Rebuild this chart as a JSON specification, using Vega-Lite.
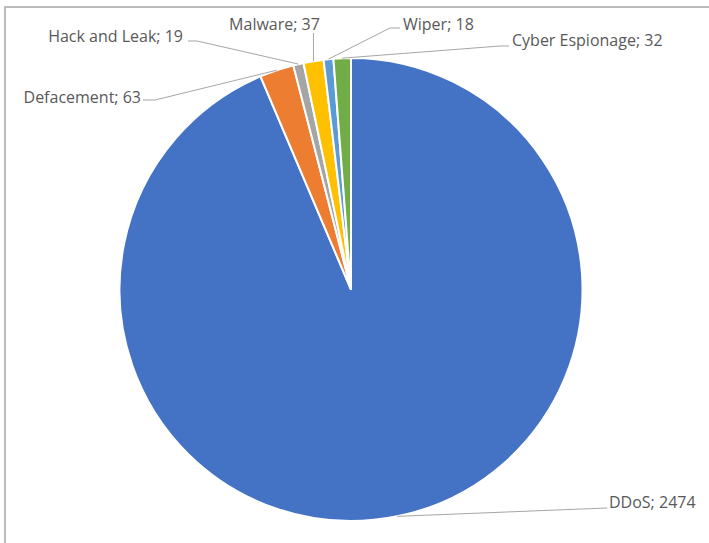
{
  "$schema": "https://vega.github.io/schema/vega-lite/v6.json",
  "width": 706,
  "height": 540,
  "autosize": {"type": "none"},
  "padding": {"left": 5, "top": 7, "right": 0, "bottom": 0},
  "background": "white",
  "config": {
    "view": {"stroke": "#a6a6a6", "strokeWidth": 1.5},
    "text": {"font": "Open Sans", "fontSize": 16, "color": "#595959"}
  },
  "data": {
    "values": [
      {"category": "DDoS", "value": 2474},
      {"category": "Defacement", "value": 63},
      {"category": "Hack and Leak", "value": 19},
      {"category": "Malware", "value": 37},
      {"category": "Wiper", "value": 18},
      {"category": "Cyber Espionage", "value": 32}
    ]
  },
  "transform": [
    {"window": [{"op": "sum", "field": "value", "as": "cum"}, {"op": "row_number", "as": "idx"}], "frame": [null, 0]},
    {"joinaggregate": [{"op": "sum", "field": "value", "as": "total"}]},
    {"calculate": "2 * PI * (datum.cum - datum.value / 2) / datum.total", "as": "mid"},
    {"calculate": "231.5 * sin(datum.mid)", "as": "ex"},
    {"calculate": "231.5 * cos(datum.mid)", "as": "ey"},
    {"calculate": "datum.category + '; ' + datum.value", "as": "label"}
  ],
  "layer": [
    {
      "mark": {"type": "arc", "radius": 231.5, "stroke": "white", "strokeWidth": 2},
      "encoding": {
        "theta": {"field": "value", "type": "quantitative", "stack": true},
        "order": {"field": "idx", "type": "quantitative"},
        "color": {
          "field": "category",
          "type": "nominal",
          "scale": {
            "domain": ["DDoS", "Defacement", "Hack and Leak", "Malware", "Wiper", "Cyber Espionage"],
            "range": ["#4472C4", "#ED7D31", "#A5A5A5", "#FFC000", "#5B9BD5", "#70AD47"]
          },
          "legend": null
        },
        "x": {"datum": 0, "type": "quantitative", "scale": {"domain": [-346, 360], "nice": false, "zero": false}, "axis": null},
        "y": {"datum": 0, "type": "quantitative", "scale": {"domain": [-257.5, 282.5], "nice": false, "zero": false}, "axis": null}
      }
    },
    {
      "transform": [{"filter": "datum.category === 'DDoS'"}],
      "layer": [
        {"mark": {"type": "rule", "color": "#a6a6a6", "strokeWidth": 1},
         "encoding": {"x": {"field": "ex", "type": "quantitative"}, "y": {"field": "ey", "type": "quantitative"}, "x2": {"datum": 256}, "y2": {"datum": -218.5}}},
        {"mark": {"type": "text", "align": "left", "baseline": "alphabetic"},
         "encoding": {"x": {"datum": 258}, "y": {"datum": -218.5}, "text": {"field": "label"}}}
      ]
    },
    {
      "transform": [{"filter": "datum.category === 'Defacement'"}],
      "layer": [
        {"mark": {"type": "rule", "color": "#a6a6a6", "strokeWidth": 1},
         "encoding": {"x": {"field": "ex", "type": "quantitative"}, "y": {"field": "ey", "type": "quantitative"}, "x2": {"datum": -196}, "y2": {"datum": 189.5}}},
        {"mark": {"type": "rule", "color": "#a6a6a6", "strokeWidth": 1},
         "encoding": {"x": {"datum": -196}, "y": {"datum": 189.5}, "x2": {"datum": -208}, "y2": {"datum": 189.5}}},
        {"mark": {"type": "text", "align": "right", "baseline": "alphabetic"},
         "encoding": {"x": {"datum": -210}, "y": {"datum": 186.5}, "text": {"field": "label"}}}
      ]
    },
    {
      "transform": [{"filter": "datum.category === 'Hack and Leak'"}],
      "layer": [
        {"mark": {"type": "rule", "color": "#a6a6a6", "strokeWidth": 1},
         "encoding": {"x": {"field": "ex", "type": "quantitative"}, "y": {"field": "ey", "type": "quantitative"}, "x2": {"datum": -154}, "y2": {"datum": 248.5}}},
        {"mark": {"type": "rule", "color": "#a6a6a6", "strokeWidth": 1},
         "encoding": {"x": {"datum": -154}, "y": {"datum": 248.5}, "x2": {"datum": -163}, "y2": {"datum": 248.5}}},
        {"mark": {"type": "text", "align": "right", "baseline": "alphabetic"},
         "encoding": {"x": {"datum": -168}, "y": {"datum": 247.5}, "text": {"field": "label"}}}
      ]
    },
    {
      "transform": [{"filter": "datum.category === 'Malware'"}],
      "layer": [
        {"mark": {"type": "rule", "color": "#a6a6a6", "strokeWidth": 1},
         "encoding": {"x": {"field": "ex", "type": "quantitative"}, "y": {"field": "ey", "type": "quantitative"}, "x2": {"field": "ex"}, "y2": {"datum": 256.5}}},
        {"mark": {"type": "text", "align": "center", "baseline": "alphabetic"},
         "encoding": {"x": {"datum": -76.5}, "y": {"datum": 259.5}, "text": {"field": "label"}}}
      ]
    },
    {
      "transform": [{"filter": "datum.category === 'Wiper'"}],
      "layer": [
        {"mark": {"type": "rule", "color": "#a6a6a6", "strokeWidth": 1},
         "encoding": {"x": {"field": "ex", "type": "quantitative"}, "y": {"field": "ey", "type": "quantitative"}, "x2": {"datum": 39}, "y2": {"datum": 261.5}}},
        {"mark": {"type": "rule", "color": "#a6a6a6", "strokeWidth": 1},
         "encoding": {"x": {"datum": 39}, "y": {"datum": 261.5}, "x2": {"datum": 49}, "y2": {"datum": 261.5}}},
        {"mark": {"type": "text", "align": "left", "baseline": "alphabetic"},
         "encoding": {"x": {"datum": 52}, "y": {"datum": 259.5}, "text": {"field": "label"}}}
      ]
    },
    {
      "transform": [{"filter": "datum.category === 'Cyber Espionage'"}],
      "layer": [
        {"mark": {"type": "rule", "color": "#a6a6a6", "strokeWidth": 1},
         "encoding": {"x": {"field": "ex", "type": "quantitative"}, "y": {"field": "ey", "type": "quantitative"}, "x2": {"datum": 149}, "y2": {"datum": 243.5}}},
        {"mark": {"type": "rule", "color": "#a6a6a6", "strokeWidth": 1},
         "encoding": {"x": {"datum": 149}, "y": {"datum": 243.5}, "x2": {"datum": 158}, "y2": {"datum": 243.5}}},
        {"mark": {"type": "text", "align": "left", "baseline": "alphabetic"},
         "encoding": {"x": {"datum": 161}, "y": {"datum": 243.5}, "text": {"field": "label"}}}
      ]
    }
  ]
}
